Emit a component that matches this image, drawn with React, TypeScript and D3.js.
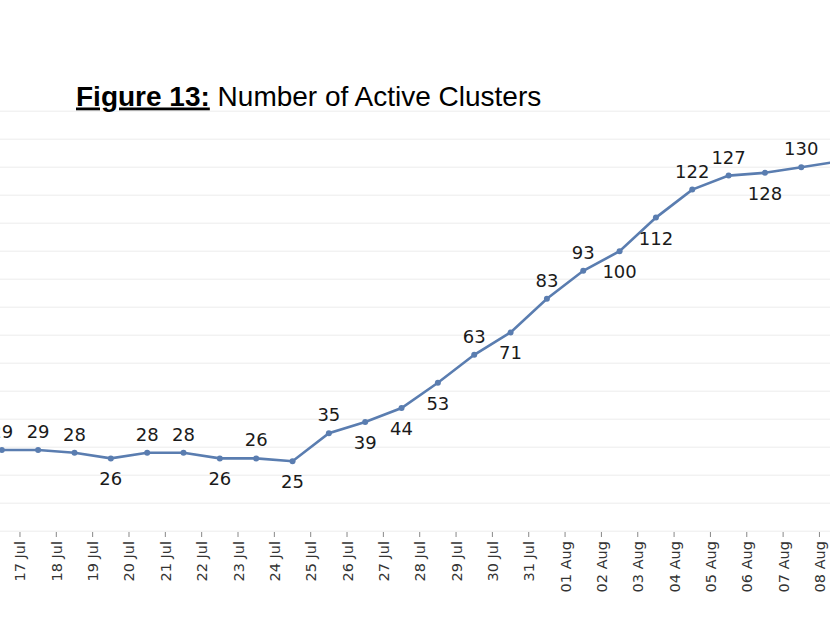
import React from "react";
import * as d3 from "d3";

const dates = [
  "16 Jul", "17 Jul", "18 Jul", "19 Jul", "20 Jul", "21 Jul", "22 Jul", "23 Jul",
  "24 Jul", "25 Jul", "26 Jul", "27 Jul", "28 Jul", "29 Jul", "30 Jul", "31 Jul",
  "01 Aug", "02 Aug", "03 Aug", "04 Aug", "05 Aug", "06 Aug", "07 Aug", "08 Aug",
];
const activeClusters = [
  29, 29, 28, 26, 28, 28, 26, 26, 25, 35, 39, 44, 53, 63, 71, 83, 93, 100, 112, 122,
  127, 128, 130, 132,
];
const labelSide = [
  "above", "above", "above", "below", "above", "above", "below", "above", "below",
  "above", "below", "below", "below", "above", "below", "above", "above", "below",
  "below", "above", "above", "below", "above", "none",
];
const gridValues = d3.range(0, 151, 10);

const W = 830;
const H = 622;

export default function App() {
  const x = d3.scaleLinear().domain([0, dates.length - 1]).range([1.8, 1.8 + 36.34 * (dates.length - 1)]);
  const y = d3.scaleLinear().domain([0, 150]).range([531.2, 111.2]);
  const step = x(1) - x(0);
  const line = d3
    .line<number>()
    .x((_, i) => x(i))
    .y((d) => y(d));
  const lineColor = "#5A7DB0";

  return (
    <svg
      width={W}
      height={H}
      style={{ position: "absolute", left: 0, top: 0, background: "#fff" }}
    >
      <rect width={W} height={H} fill="#fff" />
      {gridValues.map((g) => (
        <line key={g} x1={0} x2={W} y1={y(g)} y2={y(g)} stroke="#ececec" strokeWidth={1} />
      ))}
      {/* title */}
      <text x={76} y={105.5} fontFamily="'Liberation Sans', Arial, sans-serif" fontSize={28} fill="#000">
        <tspan fontWeight="bold" textDecoration="underline">Figure 13:</tspan>
        <tspan> Number of Active Clusters</tspan>
      </text>
      {/* x axis ticks and labels */}
      {dates.map((d, i) => {
        if (i === 0) return null;
        const tx = x(i) - step / 2;
        return (
          <g key={d}>
            <line x1={tx} x2={tx} y1={532} y2={537} stroke="#888" strokeWidth={1} />
            <text
              transform={`translate(${tx + 5.5},541) rotate(-90)`}
              textAnchor="end"
              fontFamily="'DejaVu Sans', Verdana, sans-serif"
              fontSize={14.5}
              fill="#333"
            >
              {d}
            </text>
          </g>
        );
      })}
      <path d={line(activeClusters) || ""} fill="none" stroke={lineColor} strokeWidth={2.6} />
      {activeClusters.map((v, i) => (
        <circle key={i} cx={x(i)} cy={y(v)} r={3} fill={lineColor} />
      ))}
      {activeClusters.map((v, i) =>
        labelSide[i] === "none" ? null : (
          <text
            key={"l" + i}
            x={x(i)}
            y={labelSide[i] === "above" ? y(v) - 12 : y(v) + 27}
            textAnchor="middle"
            fontFamily="'DejaVu Sans', Verdana, sans-serif"
            fontSize={18}
            fill="#1a1a1a"
          >
            {v}
          </text>
        )
      )}
    </svg>
  );
}
